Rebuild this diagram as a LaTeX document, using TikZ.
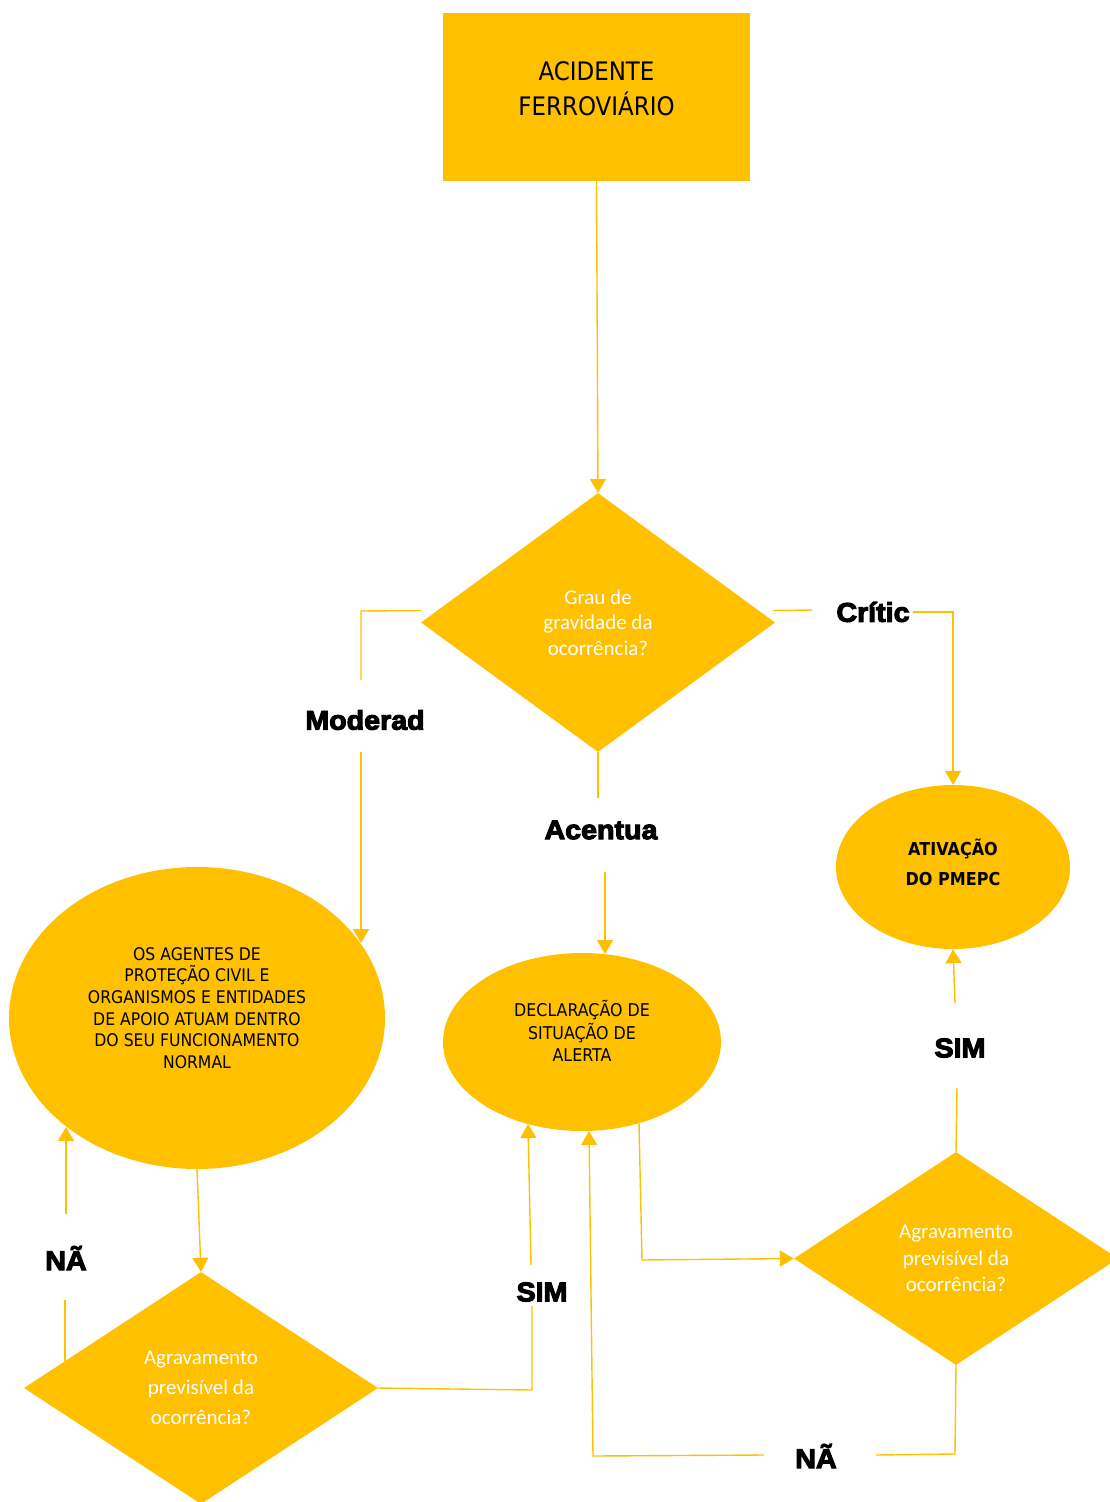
\documentclass[tikz,border=0pt]{standalone}
\usepackage{fontspec}
\usetikzlibrary{shapes.geometric,arrows.meta}
\newfontfamily\tahfont{DejaVu Sans}[FakeStretch=0.9]
\newfontfamily\blkfont{Liberation Sans}[FakeStretch=1.06,BoldFeatures={FakeBold=4}]
\newfontfamily\calfont{Carlito}
\definecolor{gold}{HTML}{FFC000}
\begin{document}
\begin{tikzpicture}[x=1pt,y=-1pt,
  conn/.style={draw=gold,line width=1.4pt},
  arr/.style={conn,-{Triangle[width=16pt,length=14pt]}},
  dia/.style={diamond,fill=gold,inner sep=0pt,align=center,text=white,font=\calfont\fontsize{21}{25.5}\selectfont},
  ell/.style={ellipse,fill=gold,inner sep=0pt},
  etext/.style={align=center,text=black,inner sep=0pt},
  lbl/.style={text=black,inner sep=0pt,font=\blkfont\bfseries\fontsize{27}{30}\selectfont}]
\path[use as bounding box] (0,0) rectangle (1110,1502);

% nodes
\node[fill=gold,minimum width=307pt,minimum height=168pt,inner sep=0pt] (box) at (596.5,97) {};
\node[etext,font=\tahfont\fontsize{25.5}{35}\selectfont] (t0) at (596.5,89) {ACIDENTE\\FERROVIÁRIO};
\node[dia,minimum width=354pt,minimum height=259pt] (d1) at (598,622.5) {Grau de\\gravidade da\\ocorrência?};
\node[ell,minimum width=376pt,minimum height=302pt] (e1) at (197,1018) {};
\node[etext,font=\tahfont\fontsize{17.4}{21.6}\selectfont] (t1) at (197,1008)
  {OS AGENTES DE\\PROTEÇÃO CIVIL E\\ORGANISMOS E ENTIDADES\\DE APOIO ATUAM DENTRO\\DO SEU FUNCIONAMENTO\\NORMAL};
\node[ell,minimum width=278pt,minimum height=178pt] (e2) at (582,1042) {};
\node[etext,font=\tahfont\fontsize{17.6}{22.5}\selectfont] (t2) at (582,1031) {DECLARAÇÃO DE\\SITUAÇÃO DE\\ALERTA};
\node[ell,minimum width=234pt,minimum height=164pt] (e3) at (953,867) {};
\node[etext,font=\tahfont\bfseries\fontsize{17.8}{30}\selectfont] (t3) at (953,862) {ATIVAÇÃO\\DO PMEPC};
\node[dia,minimum width=354pt,minimum height=232pt,font=\calfont\fontsize{21}{30}\selectfont] (d2) at (201,1388) {Agravamento\\previsível da\\ocorrência?};
\node[dia,minimum width=324pt,minimum height=213pt,font=\calfont\fontsize{21}{26.5}\selectfont] (d3) at (956,1258.5) {Agravamento\\previsível da\\ocorrência?};

% labels
\node[lbl] (lmod) at (365,720) {Moderad};
\node[lbl] (lcrit) at (873,612) {Crític};
\node[lbl] (lacc) at (601,830) {Acentua};
\node[lbl] (lna1) at (66,1258) {NÃ};
\node[lbl] (lsim1) at (542,1292) {SIM};
\node[lbl] (lsim2) at (960,1048) {SIM};
\node[lbl] (lna2) at (816,1456) {NÃ};

% coordinates
\coordinate (m1) at (361,611);
\coordinate (m2) at (361,680);
\coordinate (m3) at (361,752);
\coordinate (m4) at (361,943);
\coordinate (c1) at (812,610);
\coordinate (c2) at (913,612);
\coordinate (c3) at (953,612);
\coordinate (a1) at (598,798);
\coordinate (a2) at (605,872);
\coordinate (a3) at (605,954);
\coordinate (n1) at (65,1361);
\coordinate (n2) at (65,1300);
\coordinate (n3) at (66,1214);
\coordinate (n4) at (66,1127);
\coordinate (s1) at (532,1390);
\coordinate (s2) at (532,1306);
\coordinate (s3) at (531,1265);
\coordinate (s4) at (528,1124);
\coordinate (r1) at (639,1123);
\coordinate (r2) at (642,1260);
\coordinate (q1) at (957,1088);
\coordinate (q2) at (955,1003);
\coordinate (b1) at (955,1454);
\coordinate (b2) at (876,1455);
\coordinate (b3) at (764,1455);
\coordinate (b4) at (593,1456);
\coordinate (b5) at (589,1131);

% connectors
\draw[arr] (box.south) -- (d1.north);
\draw[conn] ([yshift=12pt]d1.west) -- (m1) -- (m2);
\draw[arr] (m3) -- (m4);
\draw[conn] ([xshift=-2pt,yshift=12pt]d1.east) -- (c1);
\draw[arr] (c2) -- (c3) -- (e3.north);
\draw[conn] (d1.south) -- (a1);
\draw[arr] (a2) -- (a3);
\draw[arr] (e1.south) -- (d2.north);
\draw[conn] (n1) -- (n2);
\draw[arr] (n3) -- (n4);
\draw[conn] (d2.east) -- (s1) -- (s2);
\draw[arr] (s3) -- (s4);
\draw[arr] (r1) -- (r2) -- (d3.west);
\draw[conn] (d3.north) -- (q1);
\draw[arr] (q2) -- (e3.south);
\draw[conn] (d3.south) -- (b1) -- (b2);
\draw[arr] (b3) -- (b4) -- (b5);
\end{tikzpicture}
\end{document}
